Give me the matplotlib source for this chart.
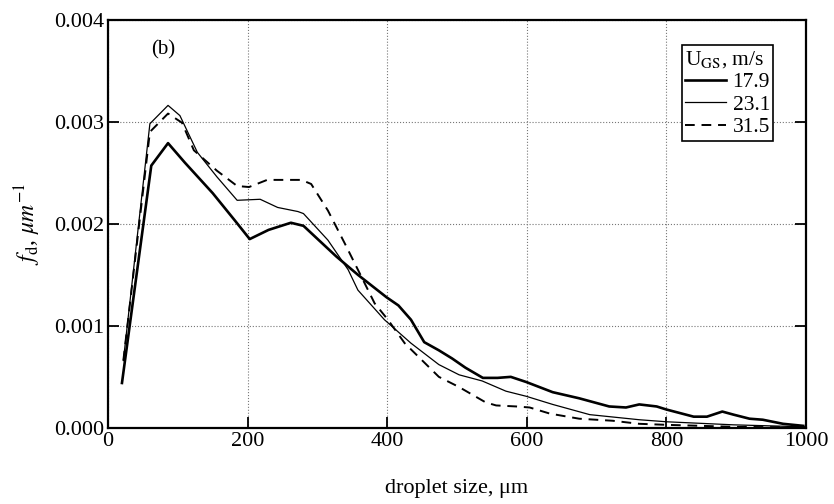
import numpy as np
import matplotlib.pyplot as plt
from matplotlib.ticker import FormatStrFormatter

# droplet size distributions for three gas superficial velocities
x_179 = [20, 62, 86, 110, 150, 182, 203, 230, 262, 280, 327, 358, 399, 416, 434, 453,
         474, 493, 512, 537, 558, 577, 599, 637, 675, 718, 742, 761, 786, 800, 839,
         858, 880, 896, 919, 938, 967, 996]
f_179 = [0.44, 2.57, 2.79, 2.60, 2.30, 2.03, 1.85, 1.94, 2.01, 1.98, 1.68, 1.50, 1.28,
         1.20, 1.06, 0.84, 0.76, 0.68, 0.59, 0.49, 0.49, 0.50, 0.45, 0.35, 0.29, 0.21,
         0.20, 0.23, 0.21, 0.18, 0.11, 0.11, 0.16, 0.13, 0.09, 0.08, 0.04, 0.02]

x_231 = [22, 60, 86, 103, 128, 156, 185, 218, 243, 272, 280, 315, 344, 358, 396, 434,
         474, 503, 536, 570, 599, 637, 690, 761, 800, 896, 1000]
f_231 = [0.66, 2.98, 3.16, 3.06, 2.70, 2.46, 2.23, 2.24, 2.16, 2.12, 2.10, 1.84, 1.55,
         1.35, 1.06, 0.83, 0.62, 0.52, 0.46, 0.36, 0.31, 0.23, 0.13, 0.08, 0.06, 0.03, 0.01]

x_315 = [22, 60, 86, 106, 123, 156, 185, 202, 228, 277, 291, 315, 339, 358, 382, 401,
         425, 474, 503, 541, 556, 585, 604, 633, 675, 723, 761, 800, 900, 1000]
f_315 = [0.66, 2.90, 3.08, 2.99, 2.72, 2.52, 2.37, 2.36, 2.43, 2.43, 2.39, 2.13, 1.81,
         1.55, 1.22, 1.06, 0.83, 0.50, 0.40, 0.25, 0.22, 0.21, 0.20, 0.14, 0.09, 0.07,
         0.04, 0.03, 0.01, 0.005]

labels = ['17.9', '23.1', '31.5']

plt.rcParams['font.family'] = 'Liberation Serif'
plt.rcParams['mathtext.fontset'] = 'stix'

fig = plt.figure(figsize=(8.34, 5.04), dpi=100)
ax = fig.add_axes([0.1295, 0.151, 0.837, 0.810])

ax.plot(x_179, np.array(f_179) * 1e-3, 'k-', lw=1.9, label=labels[0])
ax.plot(x_231, np.array(f_231) * 1e-3, 'k-', lw=0.9, label=labels[1])
ax.plot(x_315, np.array(f_315) * 1e-3, 'k--', lw=1.4, dashes=(5, 3.5), label=labels[2])

ax.set_xlim(0, 1000)
ax.set_ylim(0, 0.004)
ax.set_xticks([0, 200, 400, 600, 800, 1000])
ax.set_yticks([0, 0.001, 0.002, 0.003, 0.004])
ax.yaxis.set_major_formatter(FormatStrFormatter('%.3f'))
ax.tick_params(direction='in', length=8, width=1.3, labelsize=16,
               right=True, top=False, pad=3)
ax.grid(True, color='#777777', ls=':', lw=0.8)
for s in ax.spines.values():
    s.set_linewidth(1.6)

ax.set_xlabel('droplet size, \u03bcm', fontsize=16, labelpad=20)
ax.set_ylabel(r'$f_{\mathrm{d}}$, $\mu m^{-1}$', fontsize=17, labelpad=8)

ax.text(62, 0.0037, '(b)', fontsize=15, ha='left', va='center')

leg = ax.legend(title=r'U$_{\mathrm{GS}}$, m/s', loc='upper right',
                bbox_to_anchor=(0.953, 0.937), fontsize=15.5, title_fontsize=15.5,
                fancybox=False, framealpha=1, edgecolor='black', handlelength=1.9,
                handletextpad=0.3, borderpad=0.15, labelspacing=0.12,
                borderaxespad=0)
leg._legend_box.align = 'left'
leg.get_frame().set_linewidth(1.2)

plt.savefig('out.png', dpi=100)
